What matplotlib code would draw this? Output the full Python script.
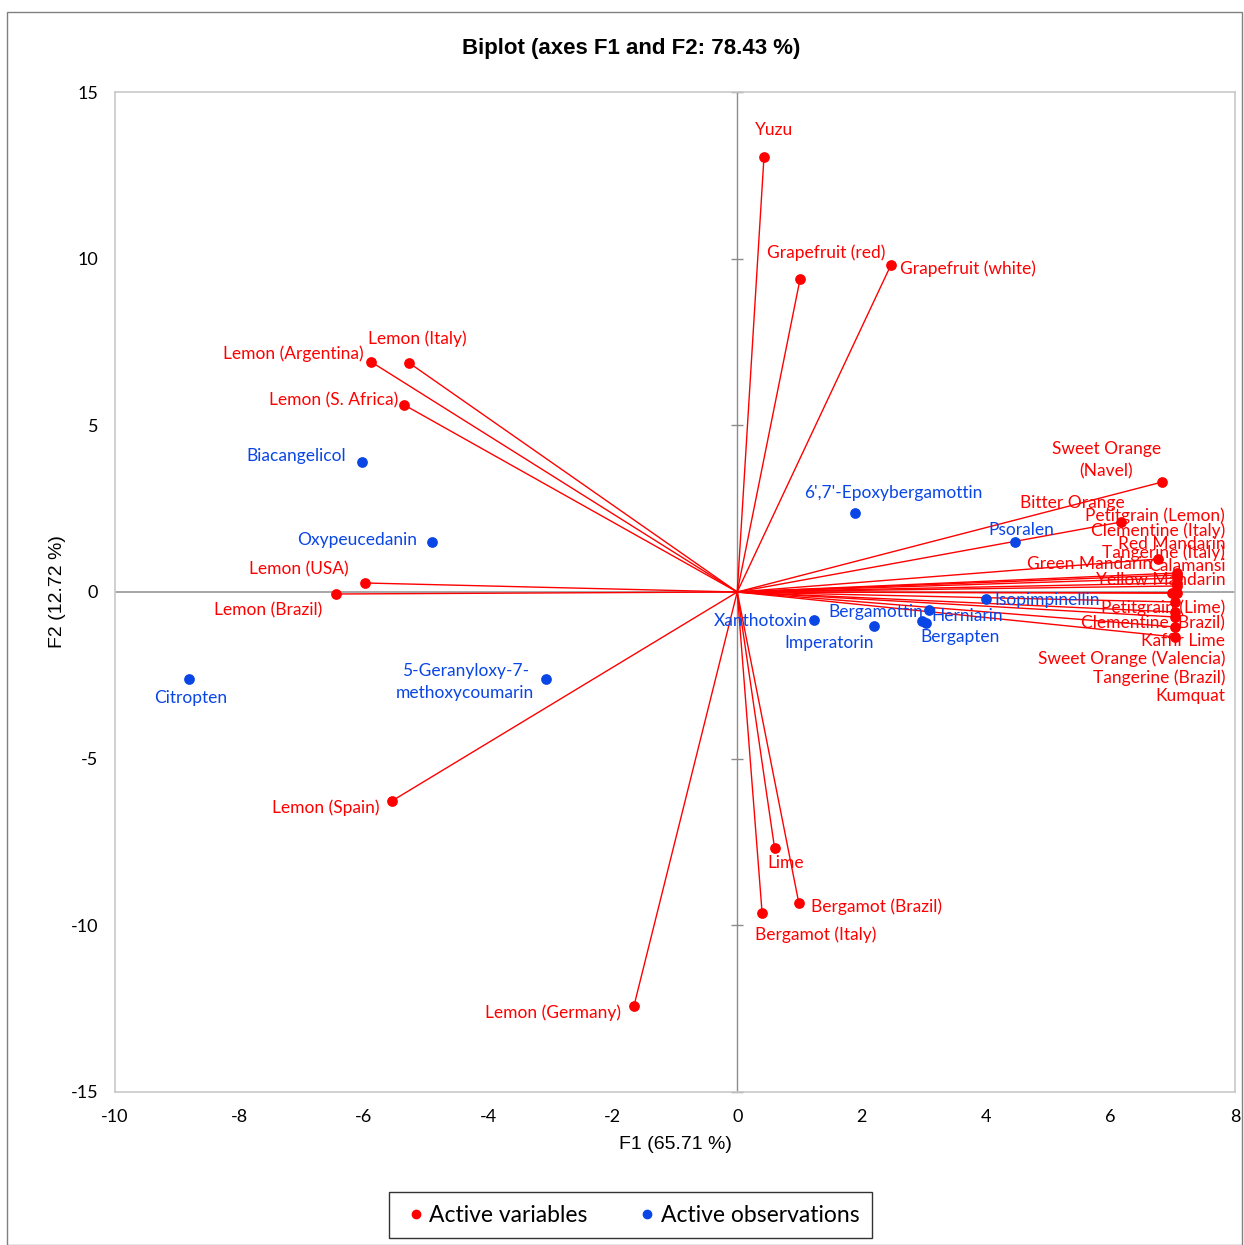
import numpy as np
import matplotlib.pyplot as plt
from matplotlib.patches import Rectangle
from matplotlib.lines import Line2D

plt.rcParams["axes.unicode_minus"] = False

# Active variables (red vectors)
var_names = [
    "Yuzu", "Grapefruit (red)", "Grapefruit (white)", "Lemon (Argentina)",
    "Lemon (Italy)", "Lemon (S. Africa)", "Lemon (USA)", "Lemon (Brazil)",
    "Lemon (Spain)", "Lemon (Germany)", "Lime", "Bergamot (Brazil)",
    "Bergamot (Italy)", "Sweet Orange\n(Navel)", "Bitter Orange",
    "Tangerine (Italy)", "Petitgrain (Lemon)", "Clementine (Italy)",
    "Red Mandarin", "Green Mandarin", "Calamansi", "Yellow Mandarin",
    "Petitgrain (Lime)", "Clementine (Brazil)", "Kaffir Lime",
    "Sweet Orange (Valencia)", "Tangerine (Brazil)", "Kumquat",
]
var_f1 = [0.43, 1.01, 2.47, -5.88, -5.27, -5.35, -5.98, -6.45, -5.55, -1.66,
          0.60, 0.99, 0.40, 6.83, 6.17, 6.76, 7.07, 7.07, 7.07, 7.07, 7.07,
          6.99, 7.07, 7.04, 7.04, 7.04, 7.04, 7.04]
var_f2 = [13.05, 9.39, 9.81, 6.90, 6.87, 5.61, 0.27, -0.06, -6.27, -12.42,
          -7.68, -9.33, -9.63, 3.30, 2.10, 0.99, 0.57, 0.51, 0.42, 0.27, 0.18,
          -0.03, -0.03, -0.30, -0.60, -0.75, -1.05, -1.35]

# Active observations (blue points)
obs_names = [
    "Biacangelicol", "Oxypeucedanin", "Citropten",
    "5-Geranyloxy-7-\nmethoxycoumarin", "6',7'-Epoxybergamottin", "Psoralen",
    "Isopimpinellin", "Xanthotoxin", "Imperatorin", "Bergamottin",
    "Herniarin", "Bergapten",
]
obs_f1 = [-6.03, -4.90, -8.81, -3.07, 1.89, 4.46, 4.00, 1.23, 2.20, 3.08, 3.03, 2.97]
obs_f2 = [3.90, 1.50, -2.61, -2.61, 2.37, 1.50, -0.21, -0.84, -1.02, -0.54, -0.93, -0.87]

# label offsets in pixels (dx, dy) and horizontal alignment
var_lbl = [
    (10, 27, "center"), (26, 26, "center"), (9, -4, "left"), (-8, 8, "right"),
    (8, 24, "center"), (-6, 5, "right"), (-16, 14, "right"), (-14, -16, "right"),
    (-12, -7, "right"), (-13, -7, "right"), (11, -15, "center"), (12, -4, "left"),
    (54, -22, "center"), (-56, 22, "center"), (-49, 19, "center"),
    (67, 6, "right"), (48, 57, "right"), (48, 44, "right"), (48, 34, "right"),
    (-25, 19, "right"), (48, 20, "right"), (53, 13, "right"), (48, -15, "right"),
    (50, -21, "right"), (50, -29, "right"), (50, -42, "right"),
    (50, -51, "right"), (50, -59, "right"),
]
obs_lbl = [
    (-16, 6, "right"), (-15, 2, "right"), (2, -19, "center"), (-81, -3, "center"),
    (38, 20, "center"), (7, 12, "center"), (8, -1, "left"), (-6, -1, "right"),
    (-45, -17, "center"), (-6, -2, "right"), (6, 7, "left"), (38, -16, "center"),
]

red = "#ff0000"
blue = "#0a46e6"
lbl_font = "Lato"

fig = plt.figure(figsize=(12.44, 12.45), dpi=100)
fig.patches.append(Rectangle((0.0056, 0.0), 0.993, 0.9904, transform=fig.transFigure,
                             fill=False, edgecolor="#808080", linewidth=1.0))
ax = fig.add_axes([0.0924, 0.1229, 0.9004, 0.8032])

ax.set_xlim(-10, 8)
ax.set_ylim(-15, 15)
ax.set_xticks(np.arange(-10, 9, 2))
ax.set_yticks(np.arange(-15, 16, 5))
ax.tick_params(length=0, labelsize=13, pad=12)
for lab in ax.get_xticklabels() + ax.get_yticklabels():
    lab.set_fontfamily(lbl_font)
for s in ax.spines.values():
    s.set_color("#c8c8c8")
    s.set_linewidth(1.2)

# central axes, tick marks only on the vertical one
ax.axhline(0, color="#a6a6a6", linewidth=1.4, zorder=1)
ax.axvline(0, color="#8c8c8c", linewidth=1.0, zorder=1)
yt = np.arange(-15, 16, 5)
ax.plot(np.zeros_like(yt), yt, linestyle="none", marker="_", markersize=8,
        color="#8c8c8c", zorder=1, clip_on=False)

# vectors
for x, y in zip(var_f1, var_f2):
    ax.plot([0, x], [0, y], color=red, linewidth=1.0, zorder=2)
ax.scatter(var_f1, var_f2, s=45, color=red, zorder=3)
ax.scatter(obs_f1, obs_f2, s=45, color=blue, zorder=3)

for name, x, y, (dx, dy, ha) in zip(var_names, var_f1, var_f2, var_lbl):
    ax.annotate(name, (x, y), xytext=(dx, dy), textcoords="offset pixels",
                ha=ha, va="center", color=red, fontsize=12.5, family=lbl_font,
                linespacing=1.45, zorder=4)
for name, x, y, (dx, dy, ha) in zip(obs_names, obs_f1, obs_f2, obs_lbl):
    ax.annotate(name, (x, y), xytext=(dx, dy), textcoords="offset pixels",
                ha=ha, va="center", color=blue, fontsize=12.5, family=lbl_font,
                linespacing=1.45, zorder=4)

ax.set_xlabel("F1 (65.71 %)", fontsize=14, family="Liberation Sans", labelpad=8)
ax.set_ylabel("F2 (12.72 %)", fontsize=14, family="Liberation Sans", labelpad=3)
fig.text(0.507, 0.961, "Biplot (axes F1 and F2: 78.43 %)", ha="center", va="center",
         fontsize=16, fontweight="bold", family="Liberation Sans")

handles = [
    Line2D([], [], linestyle="none", marker="o", markersize=6, color=red,
           label="Active variables"),
    Line2D([], [], linestyle="none", marker="o", markersize=6, color=blue,
           label="Active observations"),
]
leg = fig.legend(handles=handles, loc="center", bbox_to_anchor=(0.507, 0.024), ncol=2,
                 fancybox=False, edgecolor="black", handletextpad=0.0,
                 handlelength=1.2, columnspacing=2.0, borderpad=0.55,
                 borderaxespad=0.0, prop={"family": lbl_font, "size": 16.5})
leg.get_frame().set_linewidth(1.0)

fig.savefig("out.png", dpi=100)
